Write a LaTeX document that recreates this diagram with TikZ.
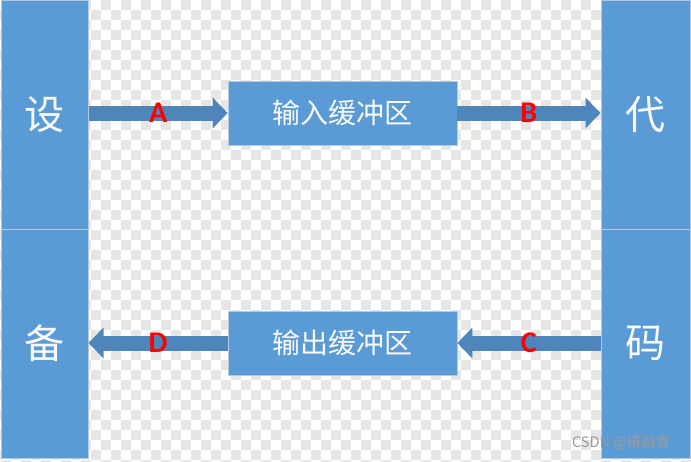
\documentclass[tikz,border=0pt]{standalone}
\usepackage{fontspec}
\newfontfamily\cjk{Noto Sans CJK SC}
\newfontfamily\lab{Carlito}
\usetikzlibrary{positioning,arrows.meta}
\definecolor{boxblue}{HTML}{5B9BD5}
\definecolor{arrblue}{HTML}{4E86BC}
\definecolor{edgeblue}{HTML}{B4C8DE}
\definecolor{chk}{HTML}{E6E6E6}
\definecolor{wmgray}{HTML}{9A9A9A}

\begin{document}
\begin{tikzpicture}[x=1pt,y=-1pt,
                    col node/.style={rectangle,fill=boxblue,draw=edgeblue,line width=1pt,minimum width=87pt,minimum height=229pt,inner sep=0pt,text=white!95!gray,font=\cjk\fontsize{40}{40}\selectfont},
                    buf node/.style={rectangle,fill=boxblue,draw=edgeblue,line width=0.6pt,minimum width=229pt,minimum height=64pt,inner sep=0pt,text=white!95!gray,font=\cjk\fontsize{28}{28}\selectfont},
                    flow/.style={arrblue,line width=15pt,-{Triangle[length=15pt,width=30pt]}},
                    flow label/.style={midway,text=red,font=\lab\bfseries\fontsize{30}{30}\selectfont}
                   ]
   \useasboundingbox (0,0) rectangle (691,461);
   % checkered background
   \fill[white] (0,0) rectangle (691,461);
   \foreach \j in {0,...,46} {
     \pgfmathtruncatemacro\s{mod(\j+1,2)}
     \pgfmathtruncatemacro\t{\s+2}
     \foreach \i in {\s,\t,...,70}
       \fill[chk] (-9+10*\i,10*\j) rectangle ++(10,10);
   }
   % device and code columns
   \node[col node] (d1) at (44.5,114.5) {设};
   \node[col node] (d2) at (44.5,343.5) {备};
   \node[col node,minimum width=89pt] (c1) at (645.5,114.5) {代};
   \node[col node,minimum width=89pt] (c2) at (645.5,343.5) {码};
   % buffers
   \node[buf node] (ib) at (342.5,113) {输入缓冲区};
   \node[buf node] (ob) at (342.5,343) {输出缓冲区};
   \draw[flow] (d1.east |- ib.west) -- node[flow label] {A} (ib.west);
   \draw[flow] (ib.east) -- node[flow label] {B} (c1.west |- ib.east);
   \draw[flow] (c2.west |- ob.east) -- node[flow label] {C} (ob.east);
   \draw[flow] (ob.west) -- node[flow label] {D} (d2.east |- ob.west);
   % watermark
   \node[anchor=east,text=wmgray,font=\cjk\fontsize{14.5}{14.5}\selectfont] (wm) at (674,443) {CSDN @椿融雪};
\end{tikzpicture}
\end{document}
